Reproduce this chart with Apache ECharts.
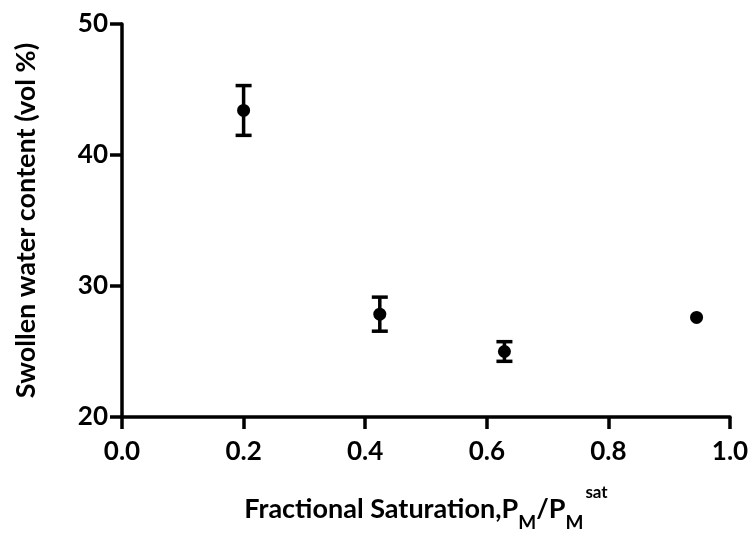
<!DOCTYPE html>
<html>
<head>
<meta charset="utf-8">
<script src="https://cdn.jsdelivr.net/npm/echarts@6/dist/echarts.min.js"></script>
<style>html,body{margin:0;padding:0;background:#fff;}#c{width:753px;height:537px;}</style>
</head>
<body>
<div id="c"></div>
<script>
// Data
const xValues = [0.2, 0.424, 0.629, 0.945];
const yMeans = [43.4, 27.85, 25.0, 27.6];
const yErrors = [1.9, 1.3, 0.75, 0];
const xTicks = [0.0, 0.2, 0.4, 0.6, 0.8, 1.0];
const yTicks = [20, 30, 40, 50];

const FONT = 'Lato';
const chart = echarts.init(document.getElementById('c'), null, {renderer: 'canvas'});

const points = xValues.map((x, i) => [x, yMeans[i]]);
const errData = xValues.map((x, i) => [x, yMeans[i] - yErrors[i], yMeans[i] + yErrors[i]]);

chart.setOption({
  animation: false,
  backgroundColor: '#fff',
  grid: {left: 122, right: 23, top: 24, bottom: 108, containLabel: false},
  xAxis: {
    type: 'value', min: 0, max: 1, interval: 0.2,
    name: '{a|Fractional Saturation,P}{sub|M}{a|/P}{sub|M}{sup|sat}',
    nameLocation: 'middle', nameGap: 75,
    nameTextStyle: {
      rich: {
        a: {fontFamily: FONT, fontWeight: 'bold', fontSize: 27, color: '#000', lineHeight: 34, verticalAlign: 'middle'},
        sub: {fontFamily: FONT, fontWeight: 'bold', fontSize: 19, color: '#000', lineHeight: 34, verticalAlign: 'bottom', padding: [0,0,-6,0]},
        sup: {fontFamily: FONT, fontWeight: 'bold', fontSize: 17, color: '#000', lineHeight: 34, verticalAlign: 'top', padding: [-8,0,0,2]}
      }
    },
    axisLine: {show: true, onZero: false, lineStyle: {color: '#000', width: 3.5}},
    axisTick: {show: true, inside: false, length: 12, lineStyle: {color: '#000', width: 3.5}},
    axisLabel: {fontFamily: FONT, fontWeight: 'bold', fontSize: 26, color: '#000', margin: 22,
      formatter: v => v.toFixed(1)},
    splitLine: {show: false}
  },
  yAxis: {
    type: 'value', min: 20, max: 50, interval: 10,
    name: 'Swollen water content (vol %)',
    nameLocation: 'middle', nameGap: 82, nameRotate: 90,
    nameTextStyle: {fontFamily: FONT, fontWeight: 'bold', fontSize: 27, color: '#000'},
    axisLine: {show: true, onZero: false, lineStyle: {color: '#000', width: 3.5}},
    axisTick: {show: true, length: 12, lineStyle: {color: '#000', width: 3.5}},
    axisLabel: {fontFamily: FONT, fontWeight: 'bold', fontSize: 26, color: '#000', margin: 14},
    splitLine: {show: false}
  },
  series: [
    {
      type: 'custom',
      data: errData,
      z: 3,
      renderItem: function (params, api) {
        const x = api.value(0), lo = api.value(1), hi = api.value(2);
        if (hi - lo <= 0) return null;
        const pLo = api.coord([x, lo]);
        const pHi = api.coord([x, hi]);
        const w = 8;
        const style = {stroke: '#000', lineWidth: 3.5, fill: null};
        return {
          type: 'group',
          children: [
            {type: 'line', shape: {x1: pLo[0], y1: pLo[1], x2: pHi[0], y2: pHi[1]}, style},
            {type: 'line', shape: {x1: pLo[0] - w, y1: pLo[1], x2: pLo[0] + w, y2: pLo[1]}, style},
            {type: 'line', shape: {x1: pHi[0] - w, y1: pHi[1], x2: pHi[0] + w, y2: pHi[1]}, style}
          ]
        };
      }
    },
    {
      type: 'scatter',
      data: points,
      symbol: 'circle',
      symbolSize: 13,
      z: 4,
      itemStyle: {color: '#000', opacity: 1}
    }
  ]
});
</script>
</body>
</html>
